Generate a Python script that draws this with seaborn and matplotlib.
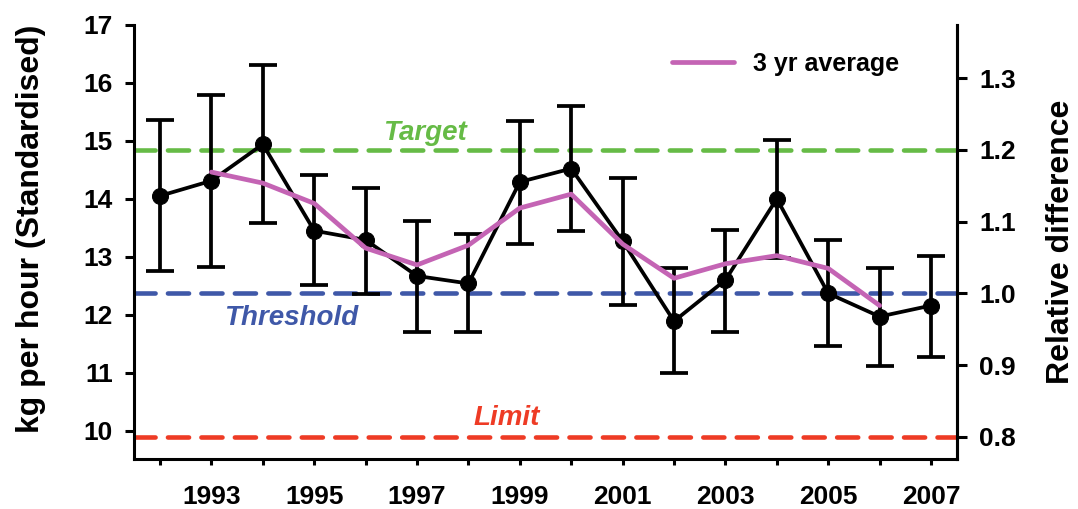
import numpy as np
import pandas as pd
import matplotlib
matplotlib.use("Agg")
import matplotlib.pyplot as plt
import seaborn as sns

# values
years = [1992, 1993, 1994, 1995, 1996, 1997, 1998, 1999,
         2000, 2001, 2002, 2003, 2004, 2005, 2006, 2007]
kg_per_hour = [14.05, 14.31, 14.94, 13.45, 13.29, 12.67, 12.54, 14.29,
               14.52, 13.27, 11.89, 12.60, 14.00, 12.37, 11.97, 12.16]
err_upper = [15.36, 15.78, 16.31, 14.41, 14.19, 13.62, 13.39, 15.34,
             15.60, 14.36, 12.81, 13.46, 15.01, 13.29, 12.80, 13.02]
err_lower = [12.76, 12.83, 13.58, 12.51, 12.36, 11.70, 11.70, 13.22,
             13.45, 12.17, 10.99, 11.71, 12.98, 11.47, 11.12, 11.28]

avg_years = [1993, 1994, 1995, 1996, 1997, 1998, 1999,
             2000, 2001, 2002, 2003, 2004, 2005, 2006]
avg_3yr = [14.46, 14.27, 13.92, 13.15, 12.86, 13.20, 13.84,
           14.08, 13.22, 12.63, 12.88, 13.02, 12.80, 12.16]

threshold = 12.37
target = 14.84
limit = 9.90

df = pd.DataFrame({"year": years, "kg": kg_per_hour,
                   "hi": err_upper, "lo": err_lower})
df_avg = pd.DataFrame({"year": avg_years, "avg": avg_3yr})

sns.set_style("ticks")
plt.rcParams["font.family"] = ["Liberation Sans", "DejaVu Sans"]
plt.rcParams["font.weight"] = "bold"
for k in ["text.color", "axes.labelcolor", "xtick.color", "ytick.color",
          "axes.edgecolor"]:
    plt.rcParams[k] = "black"

green = "#66bb46"
blue = "#3f58a8"
red = "#ee3b25"
pink = "#c464b4"

fig = plt.figure(figsize=(10.78, 5.09), dpi=100)
ax = fig.add_axes([0.1246, 0.0976, 0.7629, 0.8539])

# reference lines
for yv, c in [(target, green), (threshold, blue), (limit, red)]:
    ax.axhline(yv, color=c, linewidth=3.3, dashes=(4.6, 2.7),
               dash_capstyle="round", zorder=1)

# error bars
ax.errorbar(df["year"], df["kg"],
            yerr=[df["kg"] - df["lo"], df["hi"] - df["kg"]],
            fmt="none", ecolor="black", elinewidth=2.7, capsize=10,
            capthick=2.7, zorder=2)

sns.lineplot(data=df, x="year", y="kg", ax=ax, color="black", linewidth=2.7,
             marker="o", markersize=11.5, markeredgecolor="black", zorder=3)
sns.lineplot(data=df_avg, x="year", y="avg", ax=ax, color=pink,
             linewidth=3.4, zorder=4, label="3 yr average")

ax.set_xlim(1991.5, 2007.5)
ax.set_ylim(9.51, 17)
ax.set_xticks(years)
ax.set_xticklabels([str(y) if y % 2 == 1 else "" for y in years])
ax.set_yticks(range(10, 18))
ax.set_xlabel("")
ax.set_ylabel("kg per hour (Standardised)", fontsize=23, fontweight="bold")
ax.yaxis.set_label_coords(-0.107, 0.53)
ax.tick_params(axis="x", labelsize=19, width=2.2, length=4.5, pad=14)
ax.tick_params(axis="y", labelsize=19, width=2.2, length=6.5, pad=9)
for s in ["left", "bottom", "right"]:
    ax.spines[s].set_linewidth(2.2)
ax.spines["top"].set_visible(False)

leg = ax.legend(loc="center left", bbox_to_anchor=(0.6535, 0.909),
                frameon=False, fontsize=18, handlelength=2.5,
                handletextpad=0.75, borderpad=0, borderaxespad=0)
for t in leg.get_texts():
    t.set_fontweight("bold")

ax.text(1997.16, 15.01, "Target", color=green, fontsize=20,
        fontstyle="italic", fontweight="bold", ha="center", va="baseline")
ax.text(1994.56, 11.82, "Threshold", color=blue, fontsize=20,
        fontstyle="italic", fontweight="bold", ha="center", va="baseline")
ax.text(1998.74, 10.10, "Limit", color=red, fontsize=20,
        fontstyle="italic", fontweight="bold", ha="center", va="baseline")

# right axis: relative to threshold
ax2 = ax.twinx()
ax2.set_ylim(9.51 / threshold, 17 / threshold)
ax2.set_yticks([0.8, 0.9, 1.0, 1.1, 1.2, 1.3])
ax2.set_yticklabels(["0.8", "0.9", "1.0", "1.1", "1.2", "1.3"])
ax2.set_ylabel("Relative difference", fontsize=23, fontweight="bold",
               labelpad=22)
ax2.tick_params(axis="y", labelsize=19, width=2.2, length=7, pad=9)
ax2.spines["top"].set_visible(False)
ax2.spines["right"].set_linewidth(2.2)

fig.savefig("out.png", dpi=100)
